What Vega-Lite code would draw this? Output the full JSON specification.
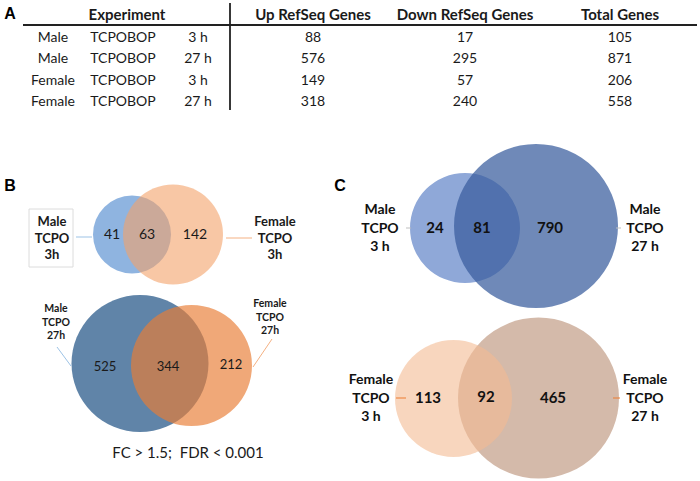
{
  "$schema": "https://vega.github.io/schema/vega-lite/v6.json",
  "width": 700,
  "height": 481,
  "padding": 0,
  "autosize": {"type": "fit", "contains": "padding"},
  "background": "white",
  "config": {"view": {"stroke": null}},
  "datasets": {
    "table": [
      {"row": 1, "sex": "Male", "treatment": "TCPOBOP", "time": "3 h", "up": 88, "down": 17, "total": 105},
      {"row": 2, "sex": "Male", "treatment": "TCPOBOP", "time": "27 h", "up": 576, "down": 295, "total": 871},
      {"row": 3, "sex": "Female", "treatment": "TCPOBOP", "time": "3 h", "up": 149, "down": 57, "total": 206},
      {"row": 4, "sex": "Female", "treatment": "TCPOBOP", "time": "27 h", "up": 318, "down": 240, "total": 558}
    ],
    "circles": [
      {"diagram": "B1", "key": "B-M3", "set": "Male TCPO 3h", "genes": 104, "x": 132, "y": 234.5, "r": 39},
      {"diagram": "B1", "key": "B-F3", "set": "Female TCPO 3h", "genes": 205, "x": 173, "y": 234.5, "r": 50},
      {"diagram": "B2", "key": "B-M27", "set": "Male TCPO 27h", "genes": 869, "x": 140, "y": 363.5, "r": 68.5},
      {"diagram": "B2", "key": "B-F27", "set": "Female TCPO 27h", "genes": 556, "x": 191.5, "y": 365.5, "r": 60.5},
      {"diagram": "C1", "key": "C-M3", "set": "Male TCPO 3 h", "genes": 105, "x": 465, "y": 228, "r": 55},
      {"diagram": "C1", "key": "C-M27", "set": "Male TCPO 27 h", "genes": 871, "x": 536, "y": 226, "r": 82},
      {"diagram": "C2", "key": "C-F27", "set": "Female TCPO 27 h", "genes": 557, "x": 538.5, "y": 398, "r": 80.5},
      {"diagram": "C2", "key": "C-F3", "set": "Female TCPO 3 h", "genes": 205, "x": 453.5, "y": 398.5, "r": 58.5}
    ],
    "regions": [
      {"diagram": "B1", "region": "Male only", "n": 41, "x": 112, "y": 235},
      {"diagram": "B1", "region": "shared", "n": 63, "x": 147, "y": 235},
      {"diagram": "B1", "region": "Female only", "n": 142, "x": 195, "y": 235},
      {"diagram": "B2", "region": "Male only", "n": 525, "x": 105, "y": 367},
      {"diagram": "B2", "region": "shared", "n": 344, "x": 168, "y": 367},
      {"diagram": "B2", "region": "Female only", "n": 212, "x": 231, "y": 365},
      {"diagram": "C1", "region": "3 h only", "n": 24, "x": 435, "y": 228},
      {"diagram": "C1", "region": "shared", "n": 81, "x": 482, "y": 228},
      {"diagram": "C1", "region": "27 h only", "n": 790, "x": 550, "y": 228},
      {"diagram": "C2", "region": "3 h only", "n": 113, "x": 428, "y": 398},
      {"diagram": "C2", "region": "shared", "n": 92, "x": 486, "y": 397},
      {"diagram": "C2", "region": "27 h only", "n": 465, "x": 553, "y": 398}
    ],
    "labels": [
      {"diagram": "B1", "label": "Male\nTCPO\n3h", "x": 52, "y": 222},
      {"diagram": "B1", "label": "Female\nTCPO\n3h", "x": 275, "y": 222},
      {"diagram": "B2", "label": "Male\nTCPO\n27h", "x": 56, "y": 309},
      {"diagram": "B2", "label": "Female\nTCPO\n27h", "x": 270, "y": 304},
      {"diagram": "C1", "label": "Male\nTCPO\n3 h", "x": 380, "y": 210},
      {"diagram": "C1", "label": "Male\nTCPO\n27 h", "x": 645, "y": 210},
      {"diagram": "C2", "label": "Female\nTCPO\n3 h", "x": 371, "y": 380},
      {"diagram": "C2", "label": "Female\nTCPO\n27 h", "x": 645, "y": 380}
    ],
    "connectors": [
      {"key": "B-M3", "x": 76, "y": 237, "x2": 92, "y2": 237},
      {"key": "B-F3", "x": 226, "y": 238, "x2": 252, "y2": 238},
      {"key": "B-M27", "x": 57, "y": 347, "x2": 71, "y2": 366},
      {"key": "B-F27", "x": 272, "y": 339, "x2": 253, "y2": 367},
      {"key": "C-M3", "x": 406, "y": 228, "x2": 411, "y2": 228},
      {"key": "C-M27", "x": 616, "y": 228, "x2": 621, "y2": 228},
      {"key": "C-F3", "x": 396, "y": 398, "x2": 406, "y2": 398},
      {"key": "C-F27", "x": 613, "y": 398, "x2": 620, "y2": 398}
    ]
  },
  "resolve": {"scale": {"x": "independent", "y": "independent"}},
  "layer": [
    {
      "data": {"name": "table"},
      "layer": [
        {
          "mark": {"type": "text", "font": "Lato", "fontSize": 14, "color": "#1a1a1a"},
          "encoding": {
            "x": {"datum": 53, "type": "quantitative", "scale": {"domain": [0, 700], "nice": false, "zero": false}, "axis": null},
            "y": {"field": "row", "type": "quantitative", "scale": {"domain": [-0.771, 21.706], "nice": false, "zero": false, "reverse": true}, "axis": null},
            "text": {"field": "sex"}
          }
        },
        {
          "mark": {"type": "text", "font": "Lato", "fontSize": 14, "color": "#1a1a1a"},
          "encoding": {
            "x": {"datum": 123, "type": "quantitative"},
            "y": {"field": "row", "type": "quantitative"},
            "text": {"field": "treatment"}
          }
        },
        {
          "mark": {"type": "text", "font": "Lato", "fontSize": 14, "color": "#1a1a1a"},
          "encoding": {
            "x": {"datum": 198, "type": "quantitative"},
            "y": {"field": "row", "type": "quantitative"},
            "text": {"field": "time"}
          }
        },
        {
          "mark": {"type": "text", "font": "Lato", "fontSize": 14, "color": "#1a1a1a"},
          "encoding": {
            "x": {"datum": 313, "type": "quantitative"},
            "y": {"field": "row", "type": "quantitative"},
            "text": {"field": "up"}
          }
        },
        {
          "mark": {"type": "text", "font": "Lato", "fontSize": 14, "color": "#1a1a1a"},
          "encoding": {
            "x": {"datum": 465, "type": "quantitative"},
            "y": {"field": "row", "type": "quantitative"},
            "text": {"field": "down"}
          }
        },
        {
          "mark": {"type": "text", "font": "Lato", "fontSize": 14, "color": "#1a1a1a"},
          "encoding": {
            "x": {"datum": 620, "type": "quantitative"},
            "y": {"field": "row", "type": "quantitative"},
            "text": {"field": "total"}
          }
        },
        {
          "data": {"values": [{}]},
          "mark": {"type": "text", "font": "Lato", "fontSize": 15, "fontWeight": "bold", "color": "#1a1a1a"},
          "encoding": {
            "x": {"datum": 127, "type": "quantitative"},
            "y": {"datum": -0.07, "type": "quantitative"},
            "text": {"value": "Experiment"}
          }
        },
        {
          "data": {"values": [{}]},
          "mark": {"type": "text", "font": "Lato", "fontSize": 15, "fontWeight": "bold", "color": "#1a1a1a"},
          "encoding": {
            "x": {"datum": 313, "type": "quantitative"},
            "y": {"datum": -0.07, "type": "quantitative"},
            "text": {"value": "Up RefSeq Genes"}
          }
        },
        {
          "data": {"values": [{}]},
          "mark": {"type": "text", "font": "Lato", "fontSize": 15, "fontWeight": "bold", "color": "#1a1a1a"},
          "encoding": {
            "x": {"datum": 465, "type": "quantitative"},
            "y": {"datum": -0.07, "type": "quantitative"},
            "text": {"value": "Down RefSeq Genes"}
          }
        },
        {
          "data": {"values": [{}]},
          "mark": {"type": "text", "font": "Lato", "fontSize": 15, "fontWeight": "bold", "color": "#1a1a1a"},
          "encoding": {
            "x": {"datum": 620, "type": "quantitative"},
            "y": {"datum": -0.07, "type": "quantitative"},
            "text": {"value": "Total Genes"}
          }
        },
        {
          "data": {"values": [{}]},
          "mark": {"type": "text", "font": "Liberation Sans", "fontSize": 16, "fontWeight": "bold", "color": "#000"},
          "encoding": {
            "x": {"datum": 10, "type": "quantitative"},
            "y": {"datum": -0.1, "type": "quantitative"},
            "text": {"value": "A"}
          }
        },
        {
          "data": {"values": [{}]},
          "mark": {"type": "rule", "color": "#222", "strokeWidth": 1.8},
          "encoding": {
            "x": {"datum": 23, "type": "quantitative"},
            "x2": {"datum": 697},
            "y": {"datum": 0.397, "type": "quantitative"}
          }
        },
        {
          "data": {"values": [{}]},
          "mark": {"type": "rule", "color": "#222", "strokeWidth": 1.8},
          "encoding": {
            "x": {"datum": 230, "type": "quantitative"},
            "y": {"datum": -0.631, "type": "quantitative"},
            "y2": {"datum": 4.369}
          }
        }
      ]
    },
    {
      "layer": [
        {
          "data": {"values": [{}]},
          "mark": {"type": "rect", "fill": "white", "fillOpacity": 0, "stroke": "#dcdcdc", "strokeWidth": 1},
          "encoding": {
            "x": {"datum": 29, "type": "quantitative", "scale": {"domain": [0, 700], "nice": false, "zero": false}, "axis": null},
            "x2": {"datum": 73},
            "y": {"datum": 209, "type": "quantitative", "scale": {"domain": [0, 481], "nice": false, "zero": false, "reverse": true}, "axis": null},
            "y2": {"datum": 267}
          }
        },
        {
          "data": {"name": "circles"},
          "mark": {"type": "point", "shape": "circle", "filled": true, "strokeWidth": 0, "opacity": 1},
          "encoding": {
            "x": {"field": "x", "type": "quantitative"},
            "y": {"field": "y", "type": "quantitative"},
            "size": {"field": "r", "type": "quantitative", "scale": {"type": "pow", "exponent": 2, "domain": [0, 100], "range": [0, 40000]}, "legend": null},
            "color": {
              "field": "key", "type": "nominal", "legend": null,
              "scale": {
                "domain": ["B-M3", "B-F3", "B-M27", "B-F27", "C-M3", "C-M27", "C-F27", "C-F3"],
                "range": ["#8fb4e0", "rgba(243,162,105,0.6)", "#6084a8", "rgba(233,125,54,0.67)", "#8fa8d8", "rgba(58,93,158,0.73)", "#d4baaa", "rgba(243,187,147,0.6)"]
              }
            },
            "tooltip": [{"field": "set"}, {"field": "genes"}]
          }
        },
        {
          "data": {"name": "connectors"},
          "mark": {"type": "rule", "strokeWidth": 1},
          "encoding": {
            "x": {"field": "x", "type": "quantitative"},
            "y": {"field": "y", "type": "quantitative"},
            "x2": {"field": "x2"},
            "y2": {"field": "y2"},
            "stroke": {
              "field": "key", "type": "nominal", "legend": null,
              "scale": {
                "domain": ["B-M3", "B-F3", "B-M27", "B-F27", "C-M3", "C-M27", "C-F3", "C-F27"],
                "range": ["#9dc3e6", "#f4b183", "#9dc3e6", "#f4b183", "#bfbfbf", "#bfbfbf", "#ed7d31", "#ed7d31"]
              }
            }
          }
        },
        {
          "data": {"name": "regions"},
          "transform": [{"filter": "datum.diagram === 'B1'"}],
          "mark": {"type": "text", "font": "Lato", "fontSize": 14, "color": "#1a1a1a"},
          "encoding": {
            "x": {"field": "x", "type": "quantitative"},
            "y": {"field": "y", "type": "quantitative"},
            "text": {"field": "n"}
          }
        },
        {
          "data": {"name": "regions"},
          "transform": [{"filter": "datum.diagram === 'B2'"}],
          "mark": {"type": "text", "font": "Lato", "fontSize": 13, "color": "#1a1a1a"},
          "encoding": {
            "x": {"field": "x", "type": "quantitative"},
            "y": {"field": "y", "type": "quantitative"},
            "text": {"field": "n"}
          }
        },
        {
          "data": {"name": "regions"},
          "transform": [{"filter": "datum.diagram === 'C1' || datum.diagram === 'C2'"}],
          "mark": {"type": "text", "font": "Lato", "fontSize": 15, "fontWeight": "bold", "color": "#111"},
          "encoding": {
            "x": {"field": "x", "type": "quantitative"},
            "y": {"field": "y", "type": "quantitative"},
            "text": {"field": "n"}
          }
        },
        {
          "data": {"name": "labels"},
          "transform": [{"filter": "datum.diagram === 'B1'"}],
          "mark": {"type": "text", "font": "Lato", "fontSize": 13, "fontWeight": "bold", "lineHeight": 16.5, "lineBreak": "\n", "color": "#1a1a1a"},
          "encoding": {
            "x": {"field": "x", "type": "quantitative"},
            "y": {"field": "y", "type": "quantitative"},
            "text": {"field": "label"}
          }
        },
        {
          "data": {"name": "labels"},
          "transform": [{"filter": "datum.diagram === 'B2'"}],
          "mark": {"type": "text", "font": "Lato", "fontSize": 10.5, "fontWeight": "bold", "lineHeight": 13.5, "lineBreak": "\n", "color": "#1a1a1a"},
          "encoding": {
            "x": {"field": "x", "type": "quantitative"},
            "y": {"field": "y", "type": "quantitative"},
            "text": {"field": "label"}
          }
        },
        {
          "data": {"name": "labels"},
          "transform": [{"filter": "datum.diagram === 'C1' || datum.diagram === 'C2'"}],
          "mark": {"type": "text", "font": "Lato", "fontSize": 14, "fontWeight": "bold", "lineHeight": 18.5, "lineBreak": "\n", "color": "#111"},
          "encoding": {
            "x": {"field": "x", "type": "quantitative"},
            "y": {"field": "y", "type": "quantitative"},
            "text": {"field": "label"}
          }
        },
        {
          "data": {"values": [{}]},
          "mark": {"type": "text", "font": "Lato", "fontSize": 15, "color": "#1a1a1a"},
          "encoding": {
            "x": {"datum": 188, "type": "quantitative"},
            "y": {"datum": 453, "type": "quantitative"},
            "text": {"value": "FC > 1.5;\u00a0 FDR < 0.001"}
          }
        },
        {
          "data": {"values": [{}]},
          "mark": {"type": "text", "font": "Liberation Sans", "fontSize": 16, "fontWeight": "bold", "color": "#000"},
          "encoding": {
            "x": {"datum": 10, "type": "quantitative"},
            "y": {"datum": 186, "type": "quantitative"},
            "text": {"value": "B"}
          }
        },
        {
          "data": {"values": [{}]},
          "mark": {"type": "text", "font": "Liberation Sans", "fontSize": 16, "fontWeight": "bold", "color": "#000"},
          "encoding": {
            "x": {"datum": 340, "type": "quantitative"},
            "y": {"datum": 186, "type": "quantitative"},
            "text": {"value": "C"}
          }
        }
      ]
    }
  ]
}
